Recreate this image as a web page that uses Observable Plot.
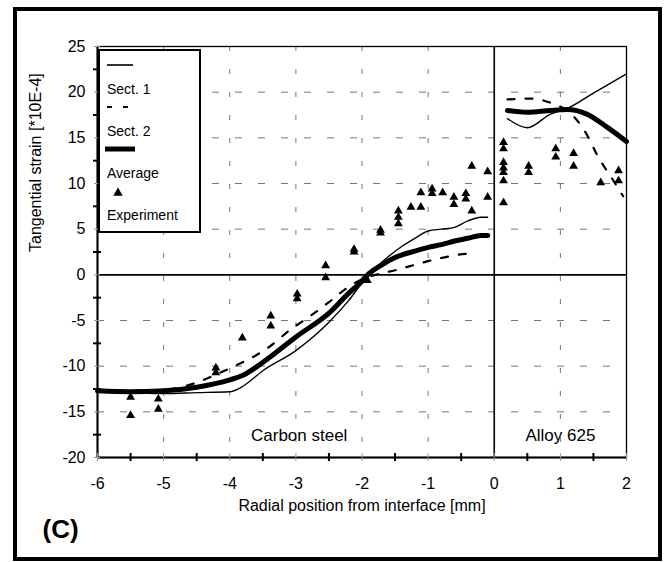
<!DOCTYPE html>
<html><head><meta charset="utf-8">
<script src="https://cdn.jsdelivr.net/npm/d3@7"></script>
<script src="https://cdn.jsdelivr.net/npm/@observablehq/plot@0.6"></script>
<style>
body{margin:0;background:#fff;}
#chart{width:665px;height:562px;}
</style>
</head><body><div id="chart"></div>
<script>
// ---- axes / ticks ----
const xTicks = [-6, -5, -4, -3, -2, -1, 0, 1, 2];
const yTicks = [-20, -15, -10, -5, 0, 5, 10, 15, 20, 25];
const xGrid = [-5, -4, -3, -2, -1, 1];
const yGrid = [-15, -10, -5, 5, 10, 15, 20];
const xMinorTicks = [-5.5, -4.5, -3.5, -2.5, -1.5, -0.5, 0.5, 1.5];
const yMinorTicks = [-17.5, -12.5, -7.5, -2.5, 2.5, 7.5, 12.5, 17.5, 22.5];

// ---- Sect. 1 (thin solid) ----
const sect1LeftX  = [-6, -5.5, -5, -4.5, -4, -3.8, -3.5, -3, -2.5, -2.2, -2, -1.8, -1.6, -1.4, -1.2, -1, -0.8, -0.6, -0.4, -0.2, -0.1];
const sect1LeftY  = [-12.8, -12.9, -13.0, -12.9, -12.8, -12.2, -10.5, -8.3, -5.2, -2.8, -0.9, 0.7, 2.0, 3.1, 4.0, 4.8, 5.0, 5.2, 5.9, 6.3, 6.3];
const sect1RightX = [0.2, 0.5, 0.85, 1.1, 1.5, 2.0];
const sect1RightY = [17.1, 16.1, 17.6, 18.2, 19.9, 22.0];

// ---- Sect. 2 (dashed) ----
const sect2LeftX  = [-6, -5.5, -5, -4.5, -4.2, -3.9, -3.6, -3.35, -3.1, -2.8, -2.5, -2.2, -2, -1.8, -1.5, -1.3, -1, -0.7, -0.4, -0.3];
const sect2LeftY  = [-12.6, -12.7, -12.6, -11.8, -10.9, -9.9, -8.8, -7.6, -6.1, -4.6, -3.0, -1.3, -0.5, 0.0, 0.5, 0.9, 1.5, 2.0, 2.3, 2.3];
const sect2RightX = [0.2, 0.55, 0.9, 1.1, 1.38, 1.58, 1.75, 1.95];
const sect2RightY = [19.2, 19.3, 18.7, 18.0, 15.6, 12.8, 10.9, 8.6];

// ---- Average (thick solid) ----
const avgLeftX  = [-6, -5.5, -5, -4.5, -4, -3.8, -3.6, -3.3, -3, -2.5, -2.2, -2, -1.9, -1.7, -1.5, -1.2, -1, -0.8, -0.6, -0.4, -0.2, -0.1];
const avgLeftY  = [-12.7, -12.8, -12.7, -12.3, -11.5, -11.0, -10.1, -8.5, -6.8, -4.2, -2.0, -0.7, 0.1, 1.1, 1.9, 2.6, 3.0, 3.3, 3.7, 4.0, 4.3, 4.3];
const avgRightX = [0.2, 0.5, 0.85, 1.1, 1.4, 1.7, 2.0];
const avgRightY = [18.0, 17.8, 18.0, 18.1, 17.6, 16.2, 14.6];

// ---- Experiment (triangles) ----
const expX = [-5.5, -5.5, -5.08, -5.08, -4.21, -4.21, -3.81, -3.38, -3.38, -2.98, -2.98, -2.55, -2.55, -2.12, -2.12, -1.92,
  -1.72, -1.72, -1.45, -1.45, -1.45, -1.26, -1.11, -1.11, -0.94, -0.94, -0.78, -0.61, -0.61, -0.43, -0.43, -0.34, -0.34,
  -0.10, -0.10, 0.14, 0.14, 0.14, 0.14, 0.14, 0.14, 0.14, 0.52, 0.52, 0.93, 0.93, 1.2, 1.2, 1.61, 1.88, 1.88];
const expY = [-13.4, -15.4, -13.6, -14.7, -10.2, -10.7, -6.9, -4.5, -5.6, -2.1, -2.6, 1.0, -0.3, 2.5, 2.8, -0.6,
  4.6, 4.9, 5.6, 6.3, 7.0, 7.4, 9.0, 7.4, 9.4, 8.9, 9.0, 8.5, 7.7, 8.9, 8.3, 11.9, 7.0,
  11.3, 8.5, 14.5, 13.8, 12.3, 11.7, 11.2, 10.3, 7.9, 11.9, 11.2, 13.8, 12.9, 13.3, 11.9, 10.1, 11.4, 10.3];

// ---- text ----
const xTitle = "Radial position from interface [mm]";
const yTitle = "Tangential strain [*10E-4]";
const regionNames = ["Carbon steel", "Alloy 625"];
const regionX = [-2.95, 1.0];
const regionY = [-17.6, -17.6];
const panelLabel = "(C)";
const legendLabels = ["Sect. 1", "Sect. 2", "Average", "Experiment"];

// ---- build tables ----
const toPts = (xs, ys, seg) => xs.map((x, i) => ({x, y: ys[i], seg}));
const sect1 = [...toPts(sect1LeftX, sect1LeftY, "L"), ...toPts(sect1RightX, sect1RightY, "R")];
const sect2 = [...toPts(sect2LeftX, sect2LeftY, "L"), ...toPts(sect2RightX, sect2RightY, "R")];
const avg = [...toPts(avgLeftX, avgLeftY, "L"), ...toPts(avgRightX, avgRightY, "R")];
const exp = toPts(expX, expY, "E");
const regions = regionNames.map((t, i) => ({t, x: regionX[i], y: regionY[i]}));

const FONT = "'Liberation Sans', Arial, Helvetica, sans-serif";
const xMin = xTicks[0], yMin = yTicks[0];

const plot = Plot.plot({
  width: 665, height: 562,
  marginLeft: 97, marginRight: 39, marginTop: 46, marginBottom: 105,
  x: {domain: [xTicks[0], xTicks[xTicks.length - 1]]},
  y: {domain: [yTicks[0], yTicks[yTicks.length - 1]]},
  style: {fontFamily: FONT, background: "white", color: "black"},
  marks: [
    Plot.gridX(xGrid, {stroke: "#555", strokeOpacity: 0.8, strokeDasharray: "5,18", strokeWidth: 1}),
    Plot.gridY(yGrid, {stroke: "#555", strokeOpacity: 0.8, strokeDasharray: "7,16", strokeWidth: 1}),
    Plot.frame({stroke: "black", strokeWidth: 1.3}),
    Plot.ruleY([0], {stroke: "black", strokeWidth: 1.6}),
    Plot.ruleX([0], {stroke: "black", strokeWidth: 1.6}),
    Plot.ruleX([xMin], {stroke: "black", strokeWidth: 2}),
    Plot.ruleY([yMin], {stroke: "black", strokeWidth: 2}),
    // crossing ticks
    Plot.ruleX(xMinorTicks, {x: d => d, y1: yMin, y2: yMin, insetTop: -4, insetBottom: -4, stroke: "black", strokeWidth: 2}),
    Plot.ruleY(yMinorTicks, {y: d => d, x1: xMin, x2: xMin, insetLeft: -4, insetRight: -4, stroke: "black", strokeWidth: 2}),
    Plot.ruleX(xTicks, {x: d => d, y1: yMin, y2: yMin, insetTop: -4, insetBottom: -4, stroke: "#999", strokeWidth: 1}),
    Plot.ruleY(yTicks, {y: d => d, x1: xMin, x2: xMin, insetLeft: -3, insetRight: -3, stroke: "#999", strokeWidth: 1}),
    Plot.axisX(xTicks, {tickSize: 0, tickPadding: 20, fontSize: 16, tickFormat: d => String(d), label: null}),
    Plot.axisY(yTicks, {tickSize: 0, tickPadding: 12, fontSize: 16, tickFormat: d => String(d), label: null}),
    // series
    Plot.line(sect1, {x: "x", y: "y", z: "seg", stroke: "black", strokeWidth: 1.4, curve: "monotone-x"}),
    Plot.line(sect2, {x: "x", y: "y", z: "seg", stroke: "black", strokeWidth: 2.2, strokeDasharray: "7,11", curve: "monotone-x"}),
    Plot.line(avg, {x: "x", y: "y", z: "seg", stroke: "black", strokeWidth: 5, curve: "monotone-x"}),
    Plot.dot(exp, {x: "x", y: "y", symbol: "triangle", r: 3.3, fill: "black", stroke: "none"}),
    // labels
    Plot.text(regions, {x: "x", y: "y", text: "t", fontSize: 17, fill: "black"}),
    Plot.text([xTitle], {frameAnchor: "bottom", dy: 53, fontSize: 16, fill: "black"}),
    Plot.text([yTitle], {frameAnchor: "left", dx: -62, rotate: -90, fontSize: 16, fill: "black"}),
    Plot.text([panelLabel], {frameAnchor: "bottom-left", dx: -55, dy: 80, fontSize: 26, fontWeight: "bold", fill: "black"})
  ]
});

document.getElementById("chart").appendChild(plot);

// ---- legend & outer border (drawn on the SVG) ----
const svg = d3.select(plot);
const L = {x: 99, y: 50, w: 101, h: 182};
const g = svg.append("g").attr("font-family", FONT).attr("font-size", 14).attr("text-anchor", "start");
g.append("rect").attr("x", L.x).attr("y", L.y).attr("width", L.w).attr("height", L.h)
  .attr("fill", "white").attr("stroke", "black").attr("stroke-width", 2);
g.append("line").attr("x1", L.x + 8).attr("x2", L.x + 34).attr("y1", L.y + 15).attr("y2", L.y + 15)
  .attr("stroke", "black").attr("stroke-width", 1.6);
g.append("line").attr("x1", L.x + 8).attr("x2", L.x + 34).attr("y1", L.y + 57).attr("y2", L.y + 57)
  .attr("stroke", "black").attr("stroke-width", 2).attr("stroke-dasharray", "5,11");
g.append("line").attr("x1", L.x + 6).attr("x2", L.x + 36).attr("y1", L.y + 99).attr("y2", L.y + 99)
  .attr("stroke", "black").attr("stroke-width", 5);
g.append("path").attr("d", d3.symbol(d3.symbolTriangle, 38)()).attr("transform", `translate(${L.x + 19},${L.y + 143})`).attr("fill", "black");
const labelYs = [L.y + 39, L.y + 81, L.y + 123, L.y + 165];
legendLabels.forEach((t, i) => {
  g.append("text").attr("x", L.x + 8).attr("y", labelYs[i]).attr("dy", "0.35em")
    .attr("text-anchor", "start").attr("fill", "black").text(t);
});
svg.append("rect").attr("x", 15).attr("y", 9).attr("width", 645).attr("height", 550)
  .attr("fill", "none").attr("stroke", "black").attr("stroke-width", 4);
</script>
</body></html>
